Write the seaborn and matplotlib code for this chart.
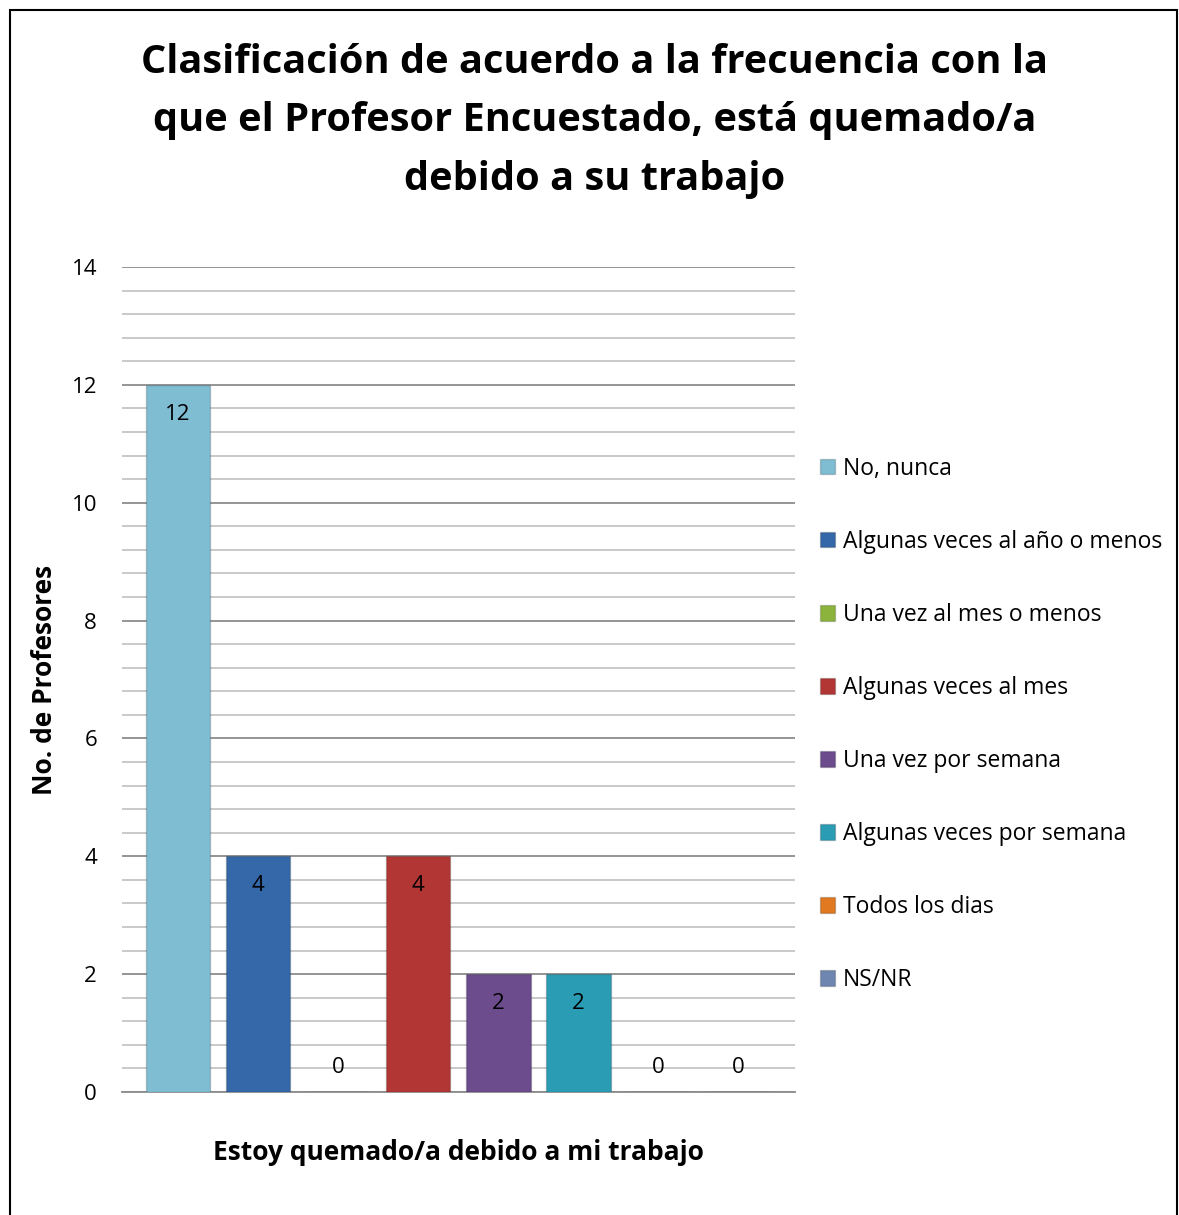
import matplotlib.pyplot as plt
import seaborn as sns
import pandas as pd
from matplotlib.patches import Rectangle

categorias = ["No, nunca", "Algunas veces al año o menos", "Una vez al mes o menos",
              "Algunas veces al mes", "Una vez por semana", "Algunas veces por semana",
              "Todos los dias", "NS/NR"]
profesores = [12, 4, 0, 4, 2, 2, 0, 0]
colores = ["#7fbdd3", "#3468a8", "#8cb43c", "#b13634", "#6c4c8c", "#2a9db5", "#e0791f", "#6f87b0"]

titulo = "Clasificación de acuerdo a la frecuencia con la\nque el Profesor Encuestado, está quemado/a\ndebido a su trabajo"

df = pd.DataFrame({"cat": categorias, "n": profesores})

sns.set_style("white")
plt.rcParams["font.family"] = ["Open Sans", "DejaVu Sans"]
plt.rcParams["text.color"] = "black"
plt.rcParams["ytick.color"] = "black"
plt.rcParams["axes.labelcolor"] = "black"

fig = plt.figure(figsize=(11.79, 12.15), dpi=100)
ax = fig.add_axes([122 / 1179, 1 - 1092 / 1215, (795 - 122) / 1179, (1092 - 267) / 1215])

sns.barplot(data=df, x="cat", y="n", hue="cat", palette=colores, dodge=False, saturation=1,
            width=0.81, ax=ax, legend=True, zorder=3)
for bar in ax.patches:
    bar.set_edgecolor((0, 0, 0, 0.18))
    bar.set_linewidth(1.0)

ax.set_ylim(0, 14)
ax.set_xlim(-0.7, 7.71)
ax.set_yticks(range(0, 15, 2))
ax.set_yticks([i * 0.4 for i in range(36)], minor=True)
ax.yaxis.grid(True, which="major", color="#8c8c8c", linewidth=1.3, zorder=0)
ax.yaxis.grid(True, which="minor", color="#c0c0c0", linewidth=1.2, zorder=0)
ax.set_axisbelow(True)
ax.tick_params(axis="y", length=0, labelsize=16, pad=18)
ax.set_xticks([])
for s in ["top", "right", "left"]:
    ax.spines[s].set_visible(False)
ax.spines["bottom"].set_color("#8c8c8c")
ax.spines["bottom"].set_linewidth(1.3)

for i, v in enumerate(profesores):
    y = v - 0.5 if v > 0 else 0.42
    ax.text(i, y, str(v), ha="center", va="center", fontsize=16, zorder=5)

ax.set_xlabel("Estoy quemado/a debido a mi trabajo", fontsize=19, fontweight="bold", labelpad=34)
ax.set_ylabel("No. de Profesores", fontsize=19, fontweight="bold", labelpad=10)

handles, labels = ax.get_legend_handles_labels()
ax.legend(handles, labels, loc="upper left", bbox_to_anchor=(1.023, 0.781), frameon=False,
          fontsize=16.5, handlelength=0.65, handleheight=0.65, handletextpad=0.35,
          labelspacing=2.14, borderaxespad=0)

fig.text(0.504, 1 - 121 / 1215, titulo, ha="center", va="center", fontsize=28.6,
         fontweight="bold", linespacing=1.65)

fig.patches.append(Rectangle((10 / 1179, -0.01), (1177 - 10) / 1179, 1 - 10 / 1215 + 0.01,
                             transform=fig.transFigure, fill=False, edgecolor="black",
                             linewidth=1.5))

fig.savefig("out.png", dpi=100)
